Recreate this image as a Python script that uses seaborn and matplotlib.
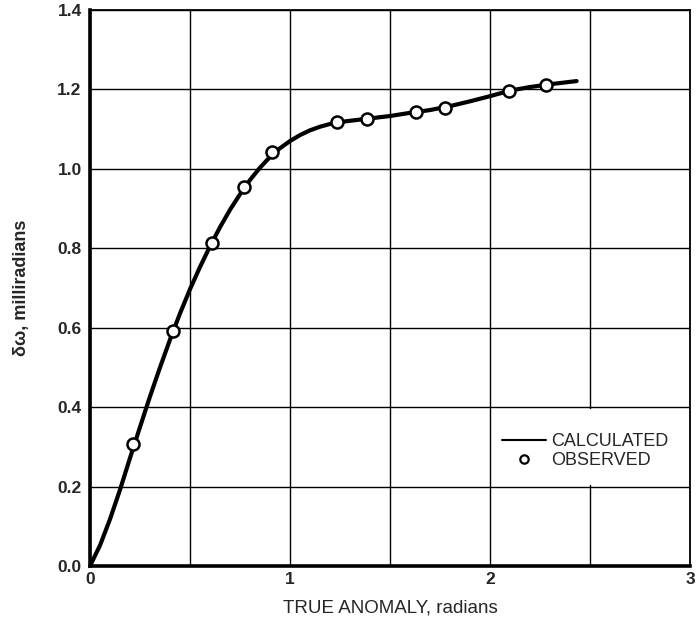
import numpy as np
import pandas as pd
import matplotlib
matplotlib.use("Agg")
import matplotlib.pyplot as plt
import seaborn as sns
from matplotlib.lines import Line2D
from matplotlib.patches import Rectangle

# Calculated curve
calc_x = [0.0, 0.05, 0.1, 0.15, 0.2, 0.25, 0.3, 0.35, 0.4, 0.45, 0.5, 0.55, 0.6,
          0.65, 0.7, 0.75, 0.8, 0.85, 0.9, 0.95, 1.0, 1.05, 1.1, 1.15, 1.2, 1.25,
          1.3, 1.4, 1.5, 1.6, 1.7, 1.8, 1.9, 2.0, 2.1, 2.2, 2.3, 2.433]
calc_y = [0.0, 0.052, 0.118, 0.192, 0.272, 0.350, 0.427, 0.500, 0.570, 0.636,
          0.697, 0.753, 0.805, 0.853, 0.897, 0.936, 0.972, 1.003, 1.030, 1.052,
          1.070, 1.085, 1.097, 1.106, 1.113, 1.118, 1.121, 1.127, 1.133, 1.141,
          1.148, 1.158, 1.170, 1.183, 1.197, 1.206, 1.213, 1.221]

# Observed points
obs_x = [0.217, 0.417, 0.608, 0.772, 0.912, 1.237, 1.383, 1.628, 1.775, 2.097, 2.278]
obs_y = [0.307, 0.592, 0.813, 0.954, 1.043, 1.118, 1.126, 1.143, 1.153, 1.197, 1.212]

x_ticks = [0, 1, 2, 3]
x_ticklabels = ["0", "1", "2", "3"]
y_ticks = [0.0, 0.2, 0.4, 0.6, 0.8, 1.0, 1.2, 1.4]
y_ticklabels = ["0.0", "0.2", "0.4", "0.6", "0.8", "1.0", "1.2", "1.4"]
x_grid = [0.5, 1.0, 1.5, 2.0, 2.5]

sns.set_style("white")
plt.rcParams['font.family'] = ['Liberation Sans', 'DejaVu Sans']

calc_df = pd.DataFrame({"x": calc_x, "y": calc_y})
obs_df = pd.DataFrame({"x": obs_x, "y": obs_y})

fig = plt.figure(figsize=(7, 6.2), dpi=100)
ax = fig.add_axes([0.1286, 0.0871, 0.8571, 0.8968])

sns.lineplot(data=calc_df, x="x", y="y", ax=ax, color="black", linewidth=3.0,
             sort=False, estimator=None, zorder=3)
sns.scatterplot(data=obs_df, x="x", y="y", ax=ax, marker="o", s=75,
                facecolor="white", edgecolor="black", linewidth=1.8, zorder=4)

ax.set_xlim(0, 3)
ax.set_ylim(0, 1.4)
ax.set_xticks(x_ticks)
ax.set_xticklabels(x_ticklabels)
ax.set_xticks(x_grid, minor=True)
ax.set_yticks(y_ticks)
ax.set_yticklabels(y_ticklabels)
ax.grid(True, which="both", color="black", linewidth=1.0)
ax.set_axisbelow(True)
ax.tick_params(axis="both", which="both", length=0, labelsize=12.5)
ax.tick_params(axis="y", pad=6)
ax.tick_params(axis="x", pad=4)
for lab in ax.get_xticklabels() + ax.get_yticklabels():
    lab.set_fontweight("bold")

for side in ["left", "bottom"]:
    ax.spines[side].set_linewidth(2.6)
    ax.spines[side].set_color("black")
for side in ["top", "right"]:
    ax.spines[side].set_linewidth(1.3)
    ax.spines[side].set_color("black")

# white background behind the legend (hides the grid line inside that cell)
ax.add_patch(Rectangle((2.015, 0.205), 0.97, 0.19, facecolor="white",
                       edgecolor="none", zorder=1))

ax.set_xlabel("TRUE ANOMALY, radians", fontsize=13.5, labelpad=9)
ax.set_ylabel("\u03b4\u03c9, milliradians", fontsize=13, fontweight="bold", labelpad=20)

handles = [Line2D([0], [0], color="black", linewidth=1.5),
           Line2D([0], [0], marker="o", linestyle="none", markersize=6,
                  markerfacecolor="white", markeredgecolor="black", markeredgewidth=1.6)]
leg = ax.legend(handles, ["CALCULATED", "OBSERVED"], loc="upper left",
                bbox_to_anchor=(0.66, 0.268), fontsize=13, handlelength=2.4,
                handletextpad=0.3, labelspacing=0.1, borderpad=0.4,
                frameon=False)

fig.savefig("out.png", dpi=100)
